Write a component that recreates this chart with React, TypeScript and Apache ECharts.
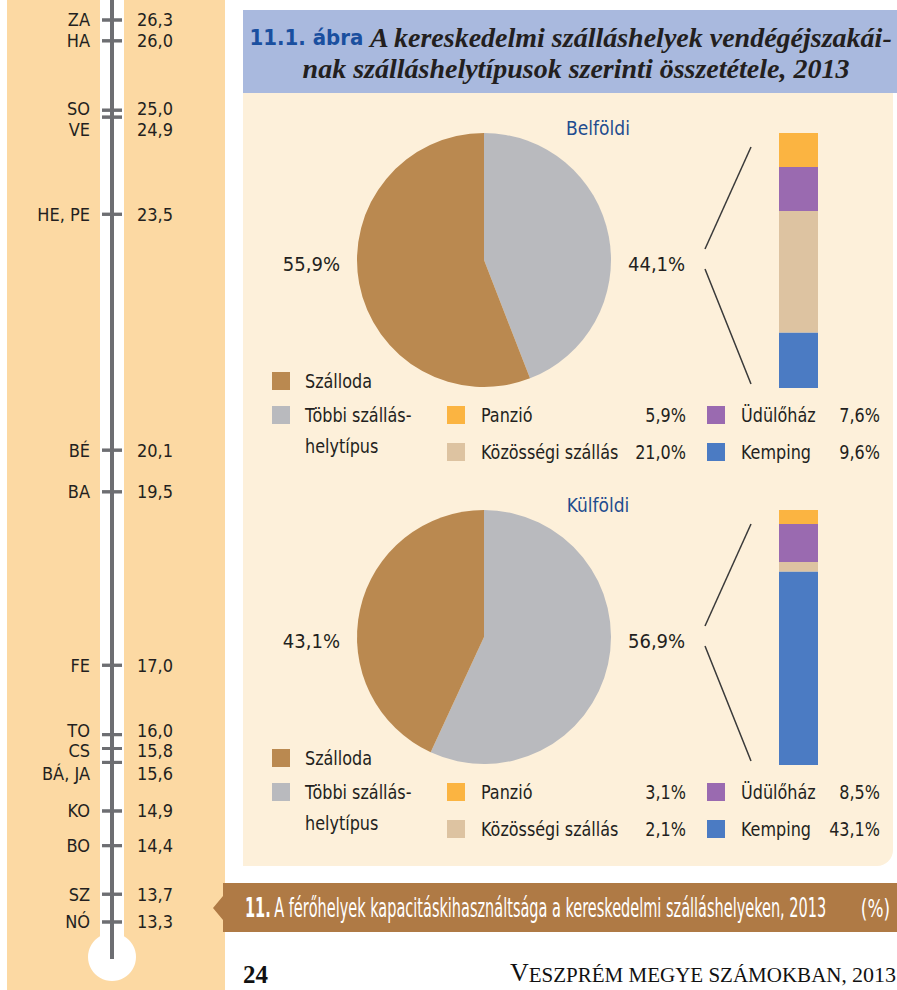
import React, { useEffect, useRef } from 'react';
import * as echarts from 'echarts';

// ---------- data ----------
const regionNames = ['ZA', 'HA', 'SO', 'VE', 'HE, PE', 'BÉ', 'BA', 'FE', 'TO', 'CS', 'BÁ, JA', 'KO', 'BO', 'SZ', 'NÓ'];
const regionValues = [26.3, 26.0, 25.0, 24.9, 23.5, 20.1, 19.5, 17.0, 16.0, 15.8, 15.6, 14.9, 14.4, 13.7, 13.3];

const panelTitles = ['Belföldi', 'Külföldi'];
const pieCategories = ['Szálloda', 'Többi szálláshelytípus'];
const belfoldiPie = [55.9, 44.1];
const kulfoldiPie = [43.1, 56.9];

const otherTypes = ['Panzió', 'Közösségi szállás', 'Üdülőház', 'Kemping'];
const belfoldiOther = [5.9, 21.0, 7.6, 9.6];
const kulfoldiOther = [3.1, 2.1, 8.5, 43.1];

// ---------- styles ----------
const W = 897;
const H = 990;
const COND = "'DejaVu Sans Condensed', 'Liberation Sans Narrow', 'DejaVu Sans', sans-serif";
const SERIF = "'Liberation Serif', 'DejaVu Serif', serif";
const INK = '#231F20';
const ROD = '#6D6E72';
const PIE_COLORS = ['#BA8950', '#B9BABE'];
const OTHER_COLORS = ['#FBB441', '#DDC3A1', '#9A6AB0', '#4B7BC3'];
const STACK_ORDER = [3, 1, 2, 0]; // bottom -> top
const PANEL_DY = 377;
const labelNudge: Record<string, number> = { SO: -2, VE: 12, TO: -4, CS: 2, 'BÁ, JA': 11 };

const fmt = (v: number) => v.toFixed(1).replace('.', ',');
const sum = (a: number[]) => a.reduce((s, v) => s + v, 0);

function txt(x: number, y: number, text: string, opts: any = {}, el: any = {}) {
  const align = opts.align || 'left';
  return {
    type: 'text',
    x,
    y,
    z: 100,
    silent: true,
    ...el,
    style: {
      text,
      fill: INK,
      fontFamily: COND,
      fontSize: 20,
      verticalAlign: 'middle',
      textVerticalAlign: 'middle',
      ...opts,
      align,
      textAlign: align,
    },
  };
}

function square(x: number, cy: number, color: string) {
  return { type: 'rect', z: 100, silent: true, shape: { x, y: cy - 9, width: 18, height: 18 }, style: { fill: color } };
}

function buildOption() {
  const graphics: any[] = [
    // left column + thermometer
    { type: 'rect', z: 0, silent: true, shape: { x: 7, y: 0, width: 218, height: H }, style: { fill: '#FCD9A3' } },
    { type: 'rect', z: 0, silent: true, shape: { x: 100, y: 0, width: 24, height: 957 }, style: { fill: '#FFFFFF' } },
    { type: 'circle', z: 0, silent: true, shape: { cx: 112, cy: 957, r: 24 }, style: { fill: '#FFFFFF' } },
    { type: 'rect', z: 1, silent: true, shape: { x: 110, y: 0, width: 4, height: 959 }, style: { fill: ROD } },
    // header and panel
    { type: 'rect', z: 0, silent: true, shape: { x: 243, y: 10, width: 654, height: 83 }, style: { fill: '#A9B9DE' } },
    { type: 'rect', z: 0, silent: true, shape: { x: 243, y: 93, width: 650, height: 773, r: [0, 0, 16, 0] }, style: { fill: '#FDF0DA' } },
    // banner
    {
      type: 'polygon', z: 0, silent: true,
      shape: { points: [[223, 883], [897, 883], [897, 932], [223, 932], [223, 920], [213, 908], [223, 896]] },
      style: { fill: '#AF7A45' },
    },
    // title
    txt(571, 37, '{a|11.1. ábra} {b|A kereskedelmi szálláshelyek vendégéjszakái-}', {
      align: 'center',
      rich: {
        a: { fontFamily: COND, fontWeight: 'bold', fontSize: 22, fill: '#1A4F9F' },
        b: { fontFamily: SERIF, fontWeight: 'bold', fontStyle: 'italic', fontSize: 28, fill: INK },
      },
    }),
    txt(576, 68, 'nak szálláshelytípusok szerinti összetétele, 2013', {
      align: 'center', fontFamily: SERIF, fontWeight: 'bold', fontStyle: 'italic', fontSize: 28,
    }),
    // banner text
    txt(245, 908, '{a|11.} {b|A férőhelyek kapacitáskihasználtsága a kereskedelmi szálláshelyeken, 2013}', {
      fill: '#FFFFFF',
      rich: {
        a: { fontFamily: COND, fontWeight: 'bold', fontSize: 26, fill: '#FFFFFF' },
        b: { fontFamily: COND, fontSize: 26, fill: '#FFFFFF' },
      },
    }, { scaleX: 0.62 }),
    txt(890, 908, '(%)', { align: 'right', fill: '#FFFFFF', fontSize: 25 }, { scaleX: 0.75 }),
    // footer
    txt(243, 974, '24', { fontFamily: SERIF, fontWeight: 'bold', fontSize: 25, fill: '#111111' }),
    txt(510, 972, '{v|V}{s|ESZPRÉM MEGYE SZÁMOKBAN, }{d|2013}', {
      fill: '#111111',
      rich: {
        v: { fontFamily: SERIF, fontSize: 26, fill: '#111111', verticalAlign: 'bottom' },
        s: { fontFamily: SERIF, fontSize: 21, fill: '#111111', verticalAlign: 'bottom' },
        d: { fontFamily: SERIF, fontSize: 22, fill: '#111111', verticalAlign: 'bottom' },
      },
    }),
  ];

  const grids: any[] = [{ left: 100, top: 6.12, width: 24, height: 936.68 }];
  const xAxes: any[] = [{ gridIndex: 0, type: 'value', min: -1, max: 1, show: false }];
  const yAxes: any[] = [{ gridIndex: 0, type: 'value', min: 13, max: 26.5, show: false }];

  const thermoItems = regionNames.map((n, i) => ({
    name: n,
    value: [0, regionValues[i]],
    label: { offset: [0, labelNudge[n] || 0] },
  }));
  const thermoLabel = { show: true, fontFamily: COND, fontSize: 18, lineHeight: 15, color: INK };

  const series: any[] = [
    {
      type: 'scatter', xAxisIndex: 0, yAxisIndex: 0, silent: true,
      symbol: 'rect', symbolSize: [20, 3], itemStyle: { color: ROD, opacity: 1 },
      label: { ...thermoLabel, position: 'left', distance: 12, formatter: '{b}' },
      data: thermoItems,
    },
    {
      type: 'scatter', xAxisIndex: 0, yAxisIndex: 0, silent: true,
      symbol: 'rect', symbolSize: [20, 3], itemStyle: { color: ROD, opacity: 1 },
      label: { ...thermoLabel, position: 'right', distance: 15, formatter: (p: any) => fmt(p.value[1]) },
      data: thermoItems,
    },
  ];

  const panels = [
    { title: panelTitles[0], pie: belfoldiPie, other: belfoldiOther },
    { title: panelTitles[1], pie: kulfoldiPie, other: kulfoldiOther },
  ];

  panels.forEach((p, i) => {
    const dy = i * PANEL_DY;
    const gi = i + 1;
    grids.push({ left: 779, top: 133 + dy, width: 39, height: 255 });
    xAxes.push({ gridIndex: gi, type: 'category', data: [p.title], show: false });
    yAxes.push({ gridIndex: gi, type: 'value', min: 0, max: sum(p.other), show: false });
    STACK_ORDER.forEach((k) => {
      series.push({
        type: 'bar', name: otherTypes[k], xAxisIndex: gi, yAxisIndex: gi, stack: 'other' + i,
        barWidth: '100%', silent: true, data: [p.other[k]],
        itemStyle: { color: OTHER_COLORS[k], borderWidth: 0 },
      });
    });
    series.push({
      type: 'pie', center: [484, 260 + dy], radius: 127, startAngle: 90, clockwise: true, silent: true,
      label: { show: false }, labelLine: { show: false }, itemStyle: { borderWidth: 0 },
      data: [1, 0].map((j) => ({ name: pieCategories[j], value: p.pie[j], itemStyle: { color: PIE_COLORS[j] } })),
    });

    graphics.push(
      txt(598, 128 + dy, p.title, { align: 'center', fontSize: 19, fill: '#1F4C8F' }),
      txt(340, 264 + dy, fmt(p.pie[0]) + '%', { align: 'right' }),
      txt(628, 264 + dy, fmt(p.pie[1]) + '%', { align: 'left' }),
      { type: 'line', z: 100, silent: true, shape: { x1: 705, y1: 249 + dy, x2: 751, y2: 147 + dy }, style: { stroke: '#3A3A3A', lineWidth: 1.5 } },
      { type: 'line', z: 100, silent: true, shape: { x1: 705, y1: 269 + dy, x2: 751, y2: 384 + dy }, style: { stroke: '#3A3A3A', lineWidth: 1.5 } },
      square(272, 381 + dy, PIE_COLORS[0]),
      txt(305, 381 + dy, pieCategories[0], {}, { scaleX: 0.89 }),
      square(272, 415 + dy, PIE_COLORS[1]),
      txt(305, 415 + dy, 'Többi szállás-', {}, { scaleX: 0.89 }),
      txt(305, 446 + dy, 'helytípus', {}, { scaleX: 0.89 }),
    );
    otherTypes.forEach((name, k) => {
      const col = k < 2 ? 0 : 1;
      const row = k % 2;
      const sq = col === 0 ? 447 : 707;
      const vx = col === 0 ? 686 : 880;
      const cy = (row === 0 ? 415 : 452) + dy;
      graphics.push(
        square(sq, cy, OTHER_COLORS[k]),
        txt(sq + 34, cy, name, {}, { scaleX: 0.89 }),
        txt(vx, cy, fmt(p.other[k]) + '%', { align: 'right' }, { scaleX: 0.89 }),
      );
    });
  });

  return {
    animation: false,
    backgroundColor: '#FFFFFF',
    grid: grids,
    xAxis: xAxes,
    yAxis: yAxes,
    series,
    graphic: { elements: graphics },
  };
}

export default function App() {
  const ref = useRef<HTMLDivElement>(null);
  useEffect(() => {
    if (!ref.current) return;
    const chart = echarts.init(ref.current, null, { renderer: 'svg' });
    chart.setOption(buildOption() as any);
    return () => chart.dispose();
  }, []);
  return <div ref={ref} style={{ position: 'fixed', left: 0, top: 0, width: W, height: H }} />;
}
